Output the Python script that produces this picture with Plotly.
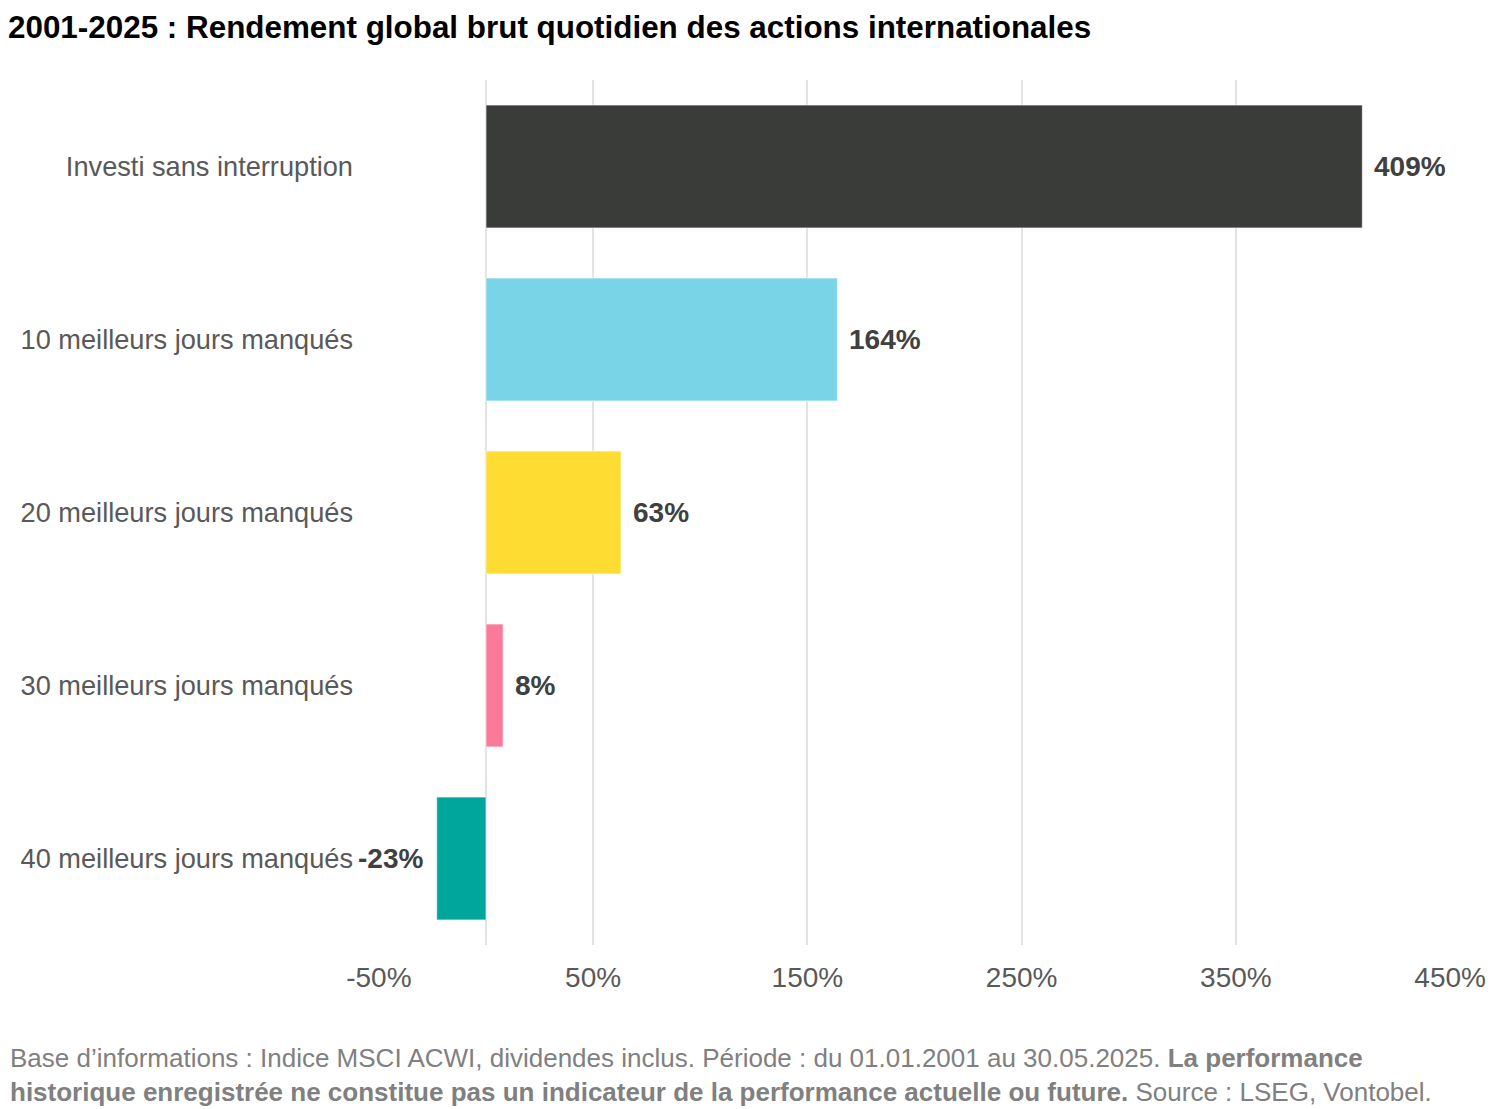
import plotly.graph_objects as go

# Données
categories = ["Investi sans interruption", "10 meilleurs jours manqués", "20 meilleurs jours manqués",
              "30 meilleurs jours manqués", "40 meilleurs jours manqués"]
rendements = [409, 164, 63, 8, -23]
couleurs = ["#3a3c3a", "#78d4e6", "#fedc32", "#fb7a99", "#00a59c"]
ticks_x = [-50, 50, 150, 250, 350, 450]

titre = "2001-2025 : Rendement global brut quotidien des actions internationales"
note = ("Base d’informations : Indice MSCI ACWI, dividendes inclus. Période : du 01.01.2001 au 30.05.2025. "
        "<b>La performance<br>historique enregistrée ne constitue pas un indicateur de la performance actuelle ou future.</b>"
        " Source : LSEG, Vontobel.")

police = "Liberation Sans, Arial"

fig = go.Figure()
fig.add_trace(go.Bar(
    x=rendements, y=categories, orientation="h",
    marker=dict(color=couleurs, line=dict(color="rgba(255,255,255,0.6)", width=1)),
    width=0.71, hoverinfo="skip"
))

# étiquettes des valeurs
for cat, val in zip(categories, rendements):
    fig.add_annotation(
        x=val, y=cat, text="<b>%d%%</b>" % val, showarrow=False,
        xanchor="left" if val >= 0 else "right", xshift=10 if val >= 0 else -12,
        font=dict(size=28, color="#404040", family=police)
    )

# note de bas de page
fig.add_annotation(
    x=-370 / 1073, y=-(1033 - 937) / 865, xref="paper", yref="paper",
    xanchor="left", yanchor="top", align="left", showarrow=False,
    text=note, font=dict(size=26, color="#808080", family=police)
)

fig.update_layout(
    width=1492, height=1101,
    margin=dict(l=370, r=49, t=72, b=164),
    plot_bgcolor="white", paper_bgcolor="white",
    showlegend=False,
    font=dict(family=police, color="#595959"),
    title=dict(text="<b>" + titre + "</b>", x=0, xref="container", xanchor="left",
               y=1 - 19 / 1101, yanchor="middle",
               font=dict(size=31.4, color="black", family=police)),
    xaxis=dict(range=[-50.4, 450.4], tickvals=ticks_x, ticktext=["%d%%" % t for t in ticks_x],
               showgrid=True, gridcolor="#e3e3e3", gridwidth=2,
               zeroline=True, zerolinecolor="#e3e3e3", zerolinewidth=2,
               tickfont=dict(size=28, color="#595959"), ticks="", ticklabelstandoff=13,
               showline=False, fixedrange=True),
    yaxis=dict(categoryorder="array", categoryarray=categories, autorange="reversed",
               tickfont=dict(size=27.2, color="#595959"), ticks="", ticklabelstandoff=24,
               showgrid=False, showline=False, automargin=False),
)

fig.write_html("out.html")
